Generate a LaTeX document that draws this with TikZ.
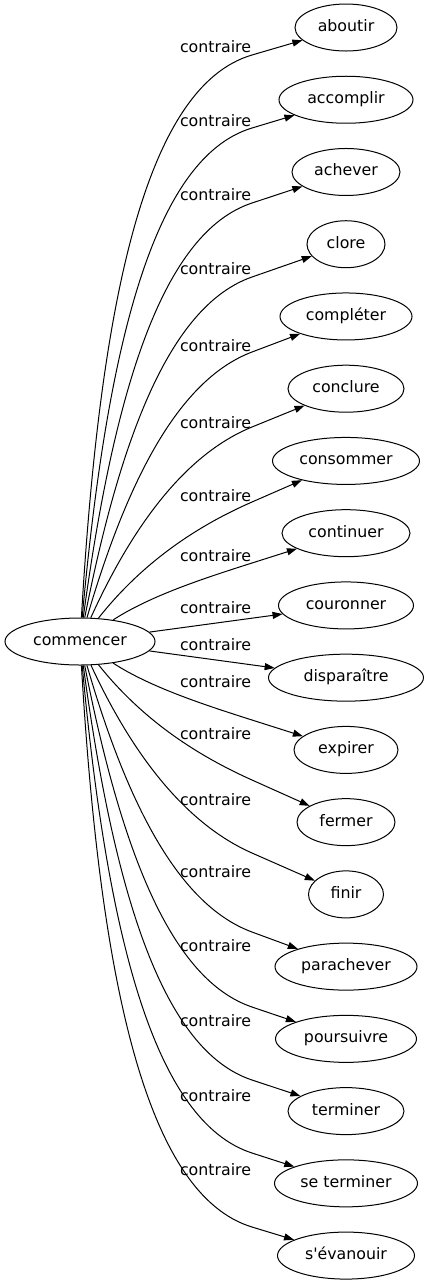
\documentclass[tikz,border=0pt]{standalone}
\usepackage{fontspec}
\newfontfamily\gvfont{DejaVu Sans}
\usetikzlibrary{arrows.meta,shapes.geometric}
\begin{document}
\begin{tikzpicture}[x=0.75pt,y=-0.75pt,
  every node/.style={font=\gvfont\fontsize{11.85pt}{14pt}\selectfont},
  word/.style={draw, ellipse, inner xsep=2pt, inner ysep=0pt, minimum height=35.25pt,
    text height=8.5pt, text depth=2.5pt, line width=0.75pt},
  lbl/.style={anchor=base, inner sep=0pt},
  edge/.style={line width=0.75pt, -{Triangle[length=7.5pt,width=5.25pt]}}]
\useasboundingbox (0,0) rectangle (428,1283);
\node[word, minimum width=112.5pt] (c) at (80,641.5) {commencer};
\foreach \i/\w/\ww in {1/aboutir/102,2/accomplir/134,3/achever/108,4/clore/78,
  5/compléter/132,6/conclure/116,7/consommer/147,8/continuer/128,9/couronner/135,
  10/disparaître/155,11/expirer/104,12/fermer/98,13/finir/75,14/parachever/142,
  15/poursuivre/141,16/terminer/116,17/se terminer/143,18/s'évanouir/137}
  \node[word, minimum width=\ww*0.75pt] (n\i) at (346,{27.5+72.24*(\i-1)}) {\w};
\foreach \i/\b in {1/52,2/126,3/200,4/274,5/351,6/428,7/501,8/561,9/613,
  10/650,11/687,12/739,13/805,14/877,15/951,16/1026,17/1101,18/1175}
  \node[lbl] (l\i) at (215.5,\b) {contraire};
\foreach \i/\my in {1/55,2/128,3/203,4/277,5/352,6/427,7/502,8/563,
  11/720,12/780,13/853,14/932,15/1007,16/1080,17/1153,18/1227}{
  \pgfmathsetmacro\yt{27.5+72.24*(\i-1)}
  \pgfmathsetmacro\D{abs(\my-641.5)}
  \pgfmathsetmacro\sg{(\my<641.5) ? -1 : 1}
  \pgfmathsetmacro\ax{157.6-0.0984*\D}
  \pgfmathsetmacro\ay{641.5+\sg*0.58*\D}
  \pgfmathsetmacro\L{40.8+0.12*\D}
  \pgfmathsetmacro\len{sqrt(94*94+(\yt-\my)^2)}
  \pgfmathsetmacro\bx{252-\L*94/\len}
  \pgfmathsetmacro\by{\my-\L*(\yt-\my)/\len}
  \coordinate (m\i) at (252,\my);
  \draw[edge] (c) .. controls (\ax,\ay) and (\bx,\by) .. (m\i) -- (n\i);
}
\draw[edge] (c) -- (n9);
\draw[edge] (c) -- (n10);
\end{tikzpicture}
\end{document}
